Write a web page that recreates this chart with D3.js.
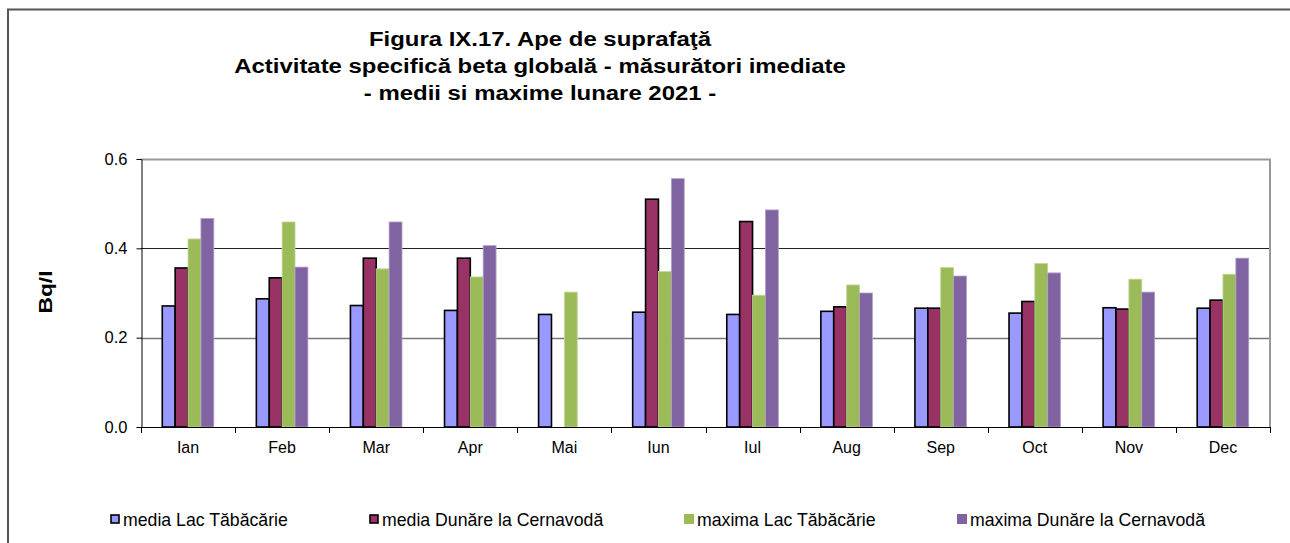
<!DOCTYPE html>
<html>
<head>
<meta charset="utf-8">
<script src="https://cdn.jsdelivr.net/npm/d3@7"></script>
<style>
  body { margin: 0; background: #fff; }
  svg { display: block; font-family: Arial, "Liberation Sans", sans-serif; }
</style>
</head>
<body>
<svg width="1290" height="543"></svg>
<script>
// data
const months = ['Ian', 'Feb', 'Mar', 'Apr', 'Mai', 'Iun', 'Iul', 'Aug', 'Sep', 'Oct', 'Nov', 'Dec'];
const seriesNames = ['media Lac Tăbăcărie', 'media Dunăre la Cernavodă', 'maxima Lac Tăbăcărie', 'maxima Dunăre la Cernavodă'];
const mediaLac = [0.271, 0.287, 0.272, 0.261, 0.252, 0.257, 0.252, 0.259, 0.266, 0.255, 0.267, 0.266];
const mediaDunare = [0.356, 0.334, 0.378, 0.378, null, 0.510, 0.460, 0.269, 0.266, 0.281, 0.264, 0.284];
const maximaLac = [0.421, 0.459, 0.354, 0.336, 0.302, 0.348, 0.295, 0.318, 0.357, 0.366, 0.331, 0.342];
const maximaDunare = [0.467, 0.358, 0.459, 0.406, null, 0.556, 0.486, 0.300, 0.338, 0.345, 0.302, 0.378];
const yTicks = [0, 0.2, 0.4, 0.6];
const titleLines = ['Figura IX.17. Ape de suprafaţă', 'Activitate specifică beta globală - măsurători imediate', '- medii si maxime lunare 2021 -'];

const allSeries = [mediaLac, mediaDunare, maximaLac, maximaDunare];
const colors = ['#9999FF', '#993366', '#9BBB59', '#8064A2'];
const strokes = ['#000', '#000', '#c3d69b', '#b2a1c7'];

const svg = d3.select('svg');

// outer frame (only left and top are inside the picture)
svg.append('path')
  .attr('d', 'M8,560V9.5H1300')
  .attr('fill', 'none')
  .attr('stroke', '#555')
  .attr('stroke-width', 2);

// title, slightly widened like the original
svg.append('g')
  .attr('transform', 'translate(540,0) scale(1.14,1)')
  .selectAll('text')
  .data(titleLines)
  .join('text')
    .attr('x', 0)
    .attr('y', (d, i) => 46 + i * 27)
    .attr('text-anchor', 'middle')
    .style('font-weight', 'bold')
    .style('font-size', '21px')
    .text(d => d);

const plot = { left: 141, right: 1270, top: 159, bottom: 427 };

const x = d3.scaleBand()
  .domain(months)
  .range([plot.left, plot.right]);

const x1 = d3.scaleBand()
  .domain(d3.range(seriesNames.length))
  .range([x.bandwidth() * 0.226, x.bandwidth() * 0.774]);

const y = d3.scaleLinear()
  .domain([0, 0.6])
  .range([plot.bottom, plot.top]);

// gridlines
svg.append('g').selectAll('line')
  .data(yTicks.slice(1, 3))
  .join('line')
    .attr('x1', plot.left).attr('x2', plot.right)
    .attr('y1', d => Math.round(y(d)) + 0.5)
    .attr('y2', d => Math.round(y(d)) + 0.5)
    .attr('stroke', d => d === 0.2 ? '#777' : '#222')
    .attr('stroke-width', d => d === 0.2 ? 1.5 : 1);

// plot border top + right
svg.append('path')
  .attr('d', `M${plot.left},${plot.top + 0.5}H${plot.right}V${plot.bottom}`)
  .attr('fill', 'none')
  .attr('stroke', '#999')
  .attr('stroke-width', 2);

// bars
const rows = months.map((m, i) => ({ month: m, values: allSeries.map(s => s[i]) }));

svg.append('g').selectAll('g')
  .data(rows)
  .join('g')
    .attr('transform', d => `translate(${x(d.month)},0)`)
  .selectAll('rect')
  .data(d => d.values.map((v, k) => ({ k, v })).filter(e => e.v != null))
  .join('rect')
    .attr('x', d => x1(d.k))
    .attr('y', d => y(d.v))
    .attr('width', x1.bandwidth())
    .attr('height', d => y(0) - y(d.v))
    .attr('fill', d => colors[d.k])
    .attr('stroke', d => strokes[d.k])
    .attr('stroke-width', d => d.k < 2 ? 1.6 : 0.8);

// y axis
const yAxis = d3.axisLeft(y)
  .tickValues(yTicks)
  .tickFormat(d3.format('.1f'))
  .tickSize(5)
  .tickSizeOuter(0)
  .tickPadding(9);

svg.append('g')
  .attr('transform', `translate(${plot.left + 0.5},0)`)
  .call(yAxis)
  .call(g => g.select('.domain').attr('stroke', '#000'))
  .call(g => g.selectAll('text').style('font-size', '16.5px').attr('fill', '#000').attr('font-family', null));

// x axis: labels centred, ticks on category boundaries
svg.append('g')
  .attr('transform', `translate(0,${plot.bottom + 0.5})`)
  .call(d3.axisBottom(x).tickSize(0).tickPadding(14))
  .call(g => g.select('.domain').remove())
  .call(g => g.selectAll('text').style('font-size', '16px').attr('fill', '#000').attr('font-family', null));

svg.append('line')
  .attr('x1', plot.left).attr('x2', plot.right)
  .attr('y1', plot.bottom + 0.5).attr('y2', plot.bottom + 0.5)
  .attr('stroke', '#000');

svg.append('g').selectAll('line')
  .data(d3.range(months.length + 1))
  .join('line')
    .attr('x1', i => Math.round(plot.left + i * x.step()) + 0.5)
    .attr('x2', i => Math.round(plot.left + i * x.step()) + 0.5)
    .attr('y1', plot.bottom)
    .attr('y2', plot.bottom + 6)
    .attr('stroke', '#000');

// y title
svg.append('text')
  .attr('transform', 'translate(45,292) rotate(-90) scale(1.2,1)')
  .attr('text-anchor', 'middle')
  .attr('dy', '0.35em')
  .style('font-weight', 'bold')
  .style('font-size', '19px')
  .text('Bq/l');

// legend
const legendX = [110, 369, 684, 957];
const legend = svg.append('g').selectAll('g')
  .data(seriesNames)
  .join('g')
    .attr('transform', (d, i) => `translate(${legendX[i]},514)`);

legend.append('rect')
  .attr('x', (d, i) => i < 2 ? 1 : 0)
  .attr('y', (d, i) => i < 2 ? 1 : 0)
  .attr('width', (d, i) => i < 2 ? 8 : 10)
  .attr('height', (d, i) => i < 2 ? 8 : 10)
  .attr('fill', (d, i) => colors[i])
  .attr('stroke', (d, i) => i < 2 ? '#000' : 'none')
  .attr('stroke-width', 1.6);

legend.append('text')
  .attr('x', 13)
  .attr('y', 12)
  .style('font-size', '17.7px')
  .text(d => d);
</script>
</body>
</html>
